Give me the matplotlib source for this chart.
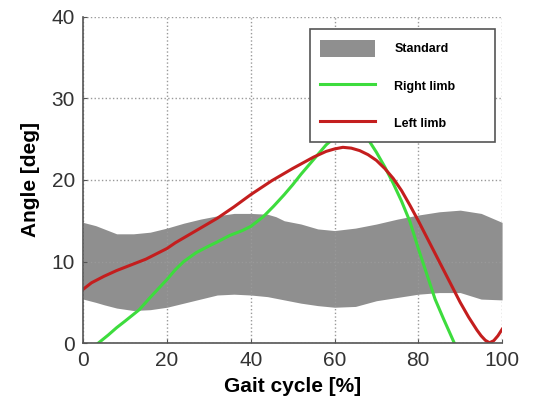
import matplotlib.pyplot as plt

plt.rcParams['font.family'] = ['Liberation Sans', 'DejaVu Sans']

# standard band
band_x = [0, 3, 5, 8, 12, 16, 20, 24, 28, 32, 36, 40, 44, 46, 48, 52, 56, 60, 65, 70, 75, 80, 85, 90, 95, 100]
band_hi = [14.8, 14.4, 14.0, 13.4, 13.4, 13.6, 14.1, 14.7, 15.2, 15.6, 15.9, 15.9, 15.8, 15.5, 15.0, 14.6, 14.0, 13.8, 14.1, 14.6, 15.2, 15.7, 16.1, 16.3, 15.9, 14.8]
band_lo = [5.4, 5.0, 4.7, 4.3, 4.0, 4.1, 4.4, 4.9, 5.4, 5.9, 6.0, 5.9, 5.7, 5.5, 5.3, 4.9, 4.6, 4.4, 4.5, 5.2, 5.6, 6.0, 6.2, 6.2, 5.4, 5.3]

right_x = [3.6, 6, 8, 10, 13.4, 16, 20, 22, 24, 27, 30, 32, 35, 38, 40, 43, 45.5, 48, 50, 52, 55, 58, 60, 62, 64, 66, 68, 70, 72, 74, 76, 78, 80, 82, 84, 86, 88, 88.6]
right_y = [0, 1.0, 1.9, 2.7, 4.1, 5.6, 7.8, 9.0, 10.0, 11.1, 11.9, 12.4, 13.2, 13.8, 14.3, 15.5, 16.8, 18.2, 19.4, 20.7, 22.5, 24.3, 25.2, 25.8, 26.0, 25.8, 25.0, 23.4, 21.6, 19.6, 17.4, 14.9, 11.6, 8.5, 5.4, 3.0, 0.7, 0]

left_x = [0, 2, 5, 8, 10, 15, 20, 22, 25, 28, 32, 36, 40, 45, 50, 55, 58, 60, 62, 64, 66, 68, 70, 72, 74, 76, 78, 80, 82, 84, 86, 88, 90, 92, 94, 95, 96, 97, 98, 99, 100]
left_y = [6.6, 7.4, 8.2, 8.9, 9.3, 10.3, 11.6, 12.3, 13.2, 14.1, 15.3, 16.7, 18.2, 19.9, 21.4, 22.8, 23.5, 23.8, 24.0, 23.9, 23.6, 23.1, 22.4, 21.4, 20.2, 18.7, 16.9, 15.0, 13.0, 11.0, 9.0, 7.0, 5.0, 3.2, 1.6, 0.9, 0.35, 0.05, 0.3, 0.9, 1.7]

fig = plt.figure(figsize=(5.33, 4.09), dpi=100)
ax = fig.add_axes([0.156, 0.161, 0.786, 0.798])

ax.fill_between(band_x, band_lo, band_hi, color='#8f8f8f', linewidth=0, label='Standard')
ax.plot(right_x, right_y, color='#3ddc3d', lw=2.2, label='Right limb')
ax.plot(left_x, left_y, color='#c41e1e', lw=2.2, label='Left limb')

ax.set_xlim(0, 100)
ax.set_ylim(0, 40)
ax.set_xticks([0, 20, 40, 60, 80, 100])
ax.set_yticks([0, 10, 20, 30, 40])
ax.grid(True, linestyle=':', color='#999999', linewidth=1)
ax.tick_params(direction='in', length=3, labelsize=15, labelcolor='#333333', color='#555555', pad=6)
for s in ['top', 'right']:
    ax.spines[s].set_visible(False)
for s in ['left', 'bottom']:
    ax.spines[s].set_color('#555555')
    ax.spines[s].set_linewidth(1.2)

ax.set_xlabel('Gait cycle [%]', fontsize=15, fontweight='bold', labelpad=5)
ax.set_ylabel('Angle [deg]', fontsize=15, fontweight='bold', labelpad=8)

leg = ax.legend(loc='upper left', bbox_to_anchor=(0.541, 0.607, 0.442, 0.355), mode='expand',
                prop={'weight': 'bold', 'size': 9}, frameon=True, fancybox=False,
                edgecolor='#555555', framealpha=1, handlelength=4.4, handleheight=1.7,
                labelspacing=1.65, handletextpad=1.5, borderpad=0.85, borderaxespad=0)
leg.get_frame().set_linewidth(1.2)
leg.set_zorder(5)

fig.savefig('out.png', dpi=100)
